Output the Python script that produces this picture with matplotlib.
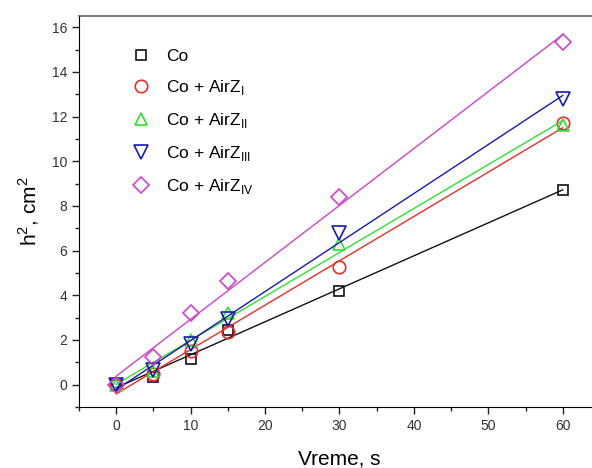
import numpy as np
import matplotlib
matplotlib.use('Agg')
import matplotlib.pyplot as plt
from matplotlib.ticker import MultipleLocator

plt.rcParams['font.family'] = ['Liberation Sans', 'DejaVu Sans']
plt.rcParams['mathtext.fontset'] = 'custom'
plt.rcParams['mathtext.rm'] = 'Liberation Sans'

# time, s
vreme = [0, 5, 10, 15, 30, 60]

co = [0.0, 0.35, 1.17, 2.45, 4.2, 8.72]
co_z1 = [0.0, 0.5, 1.52, 2.35, 5.28, 11.7]
co_z2 = [0.0, 0.6, 2.0, 3.2, 6.3, 11.6]
co_z3 = [0.0, 0.65, 1.8, 2.95, 6.8, 12.8]
co_z4 = [0.0, 1.25, 3.2, 4.65, 8.4, 15.35]

labels = ['Co',
          r'Co + AirZ$_{\rm I}$',
          r'Co + AirZ$_{\rm II}$',
          r'Co + AirZ$_{\rm III}$',
          r'Co + AirZ$_{\rm IV}$']
series = [co, co_z1, co_z2, co_z3, co_z4]
markers = ['s', 'o', '^', 'v', 'D']
colors = ['#111111', '#e0302a', '#33dd33', '#1a1aa8', '#cc44cc']
sizes = [7.5, 9, 9, 10, 8]

fig = plt.figure(figsize=(5.92, 4.68), dpi=100)
# right spine sits just past the picture edge, as in the original
ax = fig.add_axes([0.1334, 0.1303, 0.88, 0.8355])

x = np.array(vreme, dtype=float)
xfit = np.array([0.0, 60.0])
for y, m, c, lab, ms in zip(series, markers, colors, labels, sizes):
    ax.plot(x, y, linestyle='none', marker=m, markersize=ms, markerfacecolor='none',
            markeredgecolor=c, markeredgewidth=1.2, label=lab)
    k, b = np.polyfit(x, y, 1)
    ax.plot(xfit, k * xfit + b, color=c, linewidth=1.0)

ax.set_xlim(-5, 65)
ax.set_ylim(-1, 16.5)
ax.xaxis.set_major_locator(MultipleLocator(10))
ax.xaxis.set_minor_locator(MultipleLocator(5))
ax.yaxis.set_major_locator(MultipleLocator(2))
ax.yaxis.set_minor_locator(MultipleLocator(1))
ax.tick_params(which='both', direction='out', top=False, right=False, labelsize=10,
               colors='#222222', labelcolor='#333333')
ax.tick_params(which='major', length=5, width=1)
ax.tick_params(which='minor', length=3, width=1)
ax.spines['top'].set_color('#666666')
ax.spines['top'].set_linewidth(1.2)

ax.set_xlabel('Vreme, s', fontsize=15, labelpad=12)
ax.set_ylabel(r'h$^2$, cm$^2$', fontsize=15, labelpad=8)

leg = ax.legend(loc='upper left', bbox_to_anchor=(0.07, 0.955), frameon=False,
                fontsize=12.5, labelspacing=0.8, handletextpad=0.8, handlelength=1.2)

fig.savefig('out.png', dpi=100)
